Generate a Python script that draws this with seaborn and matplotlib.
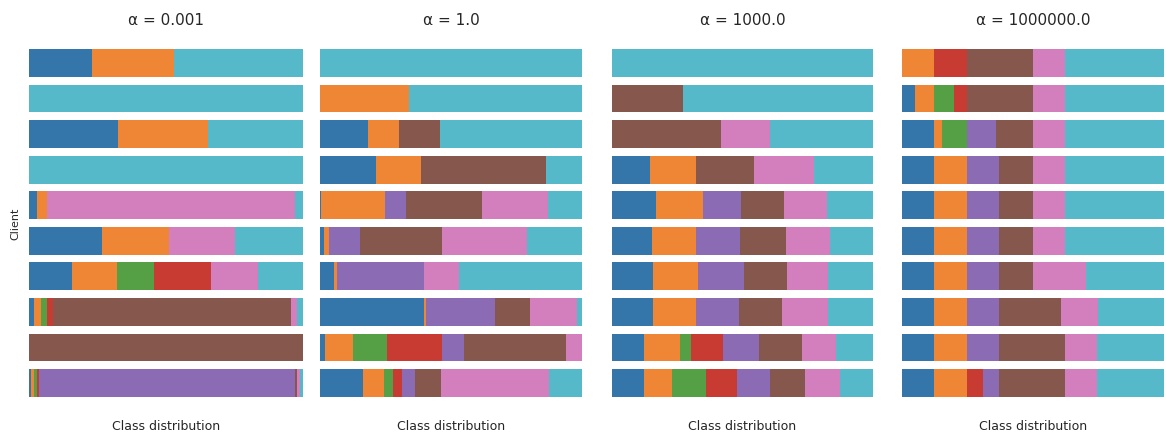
import numpy as np
import pandas as pd
import matplotlib
matplotlib.use("Agg")
import matplotlib.pyplot as plt
import seaborn as sns

# ---- data -------------------------------------------------------------
alphas = ["0.001", "1.0", "1000.0", "1000000.0"]
clients = list(range(10))
class_labels = ["c0", "c1", "c2", "c3", "c4", "c5", "c6", "c9"]
class_colors = ["#3475aa", "#ee8636", "#55a045", "#c83b33",
                "#8c6bb5", "#85574d", "#d47fbd", "#55b9ca"]

# rows = clients (top to bottom), columns = class_labels
dist_a0001 = [
    [0.230, 0.300, 0.000, 0.000, 0.000, 0.000, 0.000, 0.470],
    [0.000, 0.000, 0.000, 0.000, 0.000, 0.000, 0.000, 1.000],
    [0.325, 0.330, 0.000, 0.000, 0.000, 0.000, 0.000, 0.345],
    [0.000, 0.000, 0.000, 0.000, 0.000, 0.000, 0.000, 1.000],
    [0.028, 0.036, 0.000, 0.000, 0.000, 0.000, 0.905, 0.031],
    [0.265, 0.245, 0.000, 0.000, 0.000, 0.000, 0.240, 0.250],
    [0.158, 0.164, 0.133, 0.210, 0.000, 0.000, 0.171, 0.164],
    [0.020, 0.024, 0.022, 0.020, 0.000, 0.869, 0.022, 0.023],
    [0.000, 0.000, 0.000, 0.000, 0.000, 1.000, 0.000, 0.000],
    [0.009, 0.010, 0.011, 0.008, 0.932, 0.008, 0.012, 0.010],
]
dist_a1 = [
    [0.000, 0.000, 0.000, 0.000, 0.000, 0.000, 0.000, 1.000],
    [0.000, 0.338, 0.000, 0.000, 0.000, 0.000, 0.000, 0.662],
    [0.182, 0.121, 0.000, 0.000, 0.000, 0.155, 0.000, 0.542],
    [0.214, 0.170, 0.000, 0.000, 0.000, 0.477, 0.000, 0.139],
    [0.005, 0.244, 0.000, 0.000, 0.079, 0.290, 0.253, 0.128],
    [0.014, 0.022, 0.000, 0.000, 0.116, 0.316, 0.323, 0.210],
    [0.052, 0.013, 0.000, 0.000, 0.332, 0.000, 0.132, 0.471],
    [0.396, 0.008, 0.000, 0.000, 0.263, 0.136, 0.178, 0.019],
    [0.020, 0.104, 0.132, 0.210, 0.084, 0.389, 0.060, 0.000],
    [0.164, 0.080, 0.033, 0.036, 0.051, 0.099, 0.410, 0.127],
]
dist_a1000 = [
    [0.000, 0.000, 0.000, 0.000, 0.000, 0.000, 0.000, 1.000],
    [0.000, 0.000, 0.000, 0.000, 0.000, 0.272, 0.000, 0.728],
    [0.000, 0.000, 0.000, 0.000, 0.000, 0.418, 0.189, 0.393],
    [0.146, 0.176, 0.000, 0.000, 0.000, 0.221, 0.231, 0.226],
    [0.167, 0.183, 0.000, 0.000, 0.143, 0.167, 0.165, 0.175],
    [0.153, 0.169, 0.000, 0.000, 0.170, 0.174, 0.170, 0.165],
    [0.158, 0.170, 0.000, 0.000, 0.176, 0.167, 0.157, 0.171],
    [0.158, 0.163, 0.000, 0.000, 0.167, 0.163, 0.174, 0.174],
    [0.121, 0.139, 0.043, 0.121, 0.139, 0.165, 0.130, 0.140],
    [0.121, 0.110, 0.128, 0.120, 0.128, 0.133, 0.133, 0.128],
]
dist_a1000000 = [
    [0.000, 0.122, 0.000, 0.126, 0.000, 0.253, 0.122, 0.377],
    [0.051, 0.071, 0.075, 0.051, 0.000, 0.253, 0.122, 0.377],
    [0.122, 0.031, 0.095, 0.000, 0.109, 0.144, 0.122, 0.377],
    [0.122, 0.126, 0.000, 0.000, 0.123, 0.130, 0.122, 0.377],
    [0.122, 0.126, 0.000, 0.000, 0.123, 0.130, 0.122, 0.377],
    [0.122, 0.126, 0.000, 0.000, 0.123, 0.130, 0.122, 0.377],
    [0.122, 0.126, 0.000, 0.000, 0.123, 0.130, 0.201, 0.298],
    [0.122, 0.126, 0.000, 0.000, 0.123, 0.237, 0.139, 0.253],
    [0.122, 0.126, 0.000, 0.000, 0.123, 0.252, 0.123, 0.254],
    [0.122, 0.126, 0.000, 0.062, 0.061, 0.252, 0.123, 0.254],
]
panels = [dist_a0001, dist_a1, dist_a1000, dist_a1000000]

# ---- style ------------------------------------------------------------
sns.set_theme(style="white")
plt.rcParams["font.family"] = ["DejaVu Sans"]

palette = dict(zip(class_labels, class_colors))

W, H = 1166, 435
fig = plt.figure(figsize=(W / 100, H / 100), dpi=100)

# axes extents in pixels (left, right)
x_extents = [(29, 303), (320, 582), (612, 873), (902, 1164)]
top_px, bot_px = 50, 398

for k, (dist, alpha_lbl) in enumerate(zip(panels, alphas)):
    l, r = x_extents[k]
    ax = fig.add_axes([l / W, (H - bot_px) / H, (r - l) / W, (bot_px - top_px) / H])
    rows = []
    for ci, row in enumerate(dist):
        for lab, v in zip(class_labels, row):
            rows.append({"client": clients[ci], "cls": lab, "frac": v})
    df = pd.DataFrame(rows)
    # seaborn stacks the first hue level on top, so reverse to get class 0 at the left
    sns.histplot(data=df, y="client", hue="cls", weights="frac",
                 hue_order=class_labels[::-1], palette=palette,
                 multiple="fill", discrete=True, shrink=0.78,
                 alpha=1, linewidth=0, legend=False, ax=ax)
    ax.set_xlim(0, 1)
    ax.set_ylim(len(clients) - 1 + 0.39, -0.39)
    ax.set_xticks([])
    ax.set_yticks([])
    for s in ax.spines.values():
        s.set_visible(False)
    ax.set_title(f"α = {alpha_lbl}", fontsize=11, pad=18, color=".15")
    ax.set_xlabel("Class distribution", fontsize=9, labelpad=16, color=".15")
    if k == 0:
        ax.set_ylabel("Client", fontsize=8, labelpad=6, color=".15")
    else:
        ax.set_ylabel("")

fig.savefig("out.png", dpi=100, facecolor="white")
